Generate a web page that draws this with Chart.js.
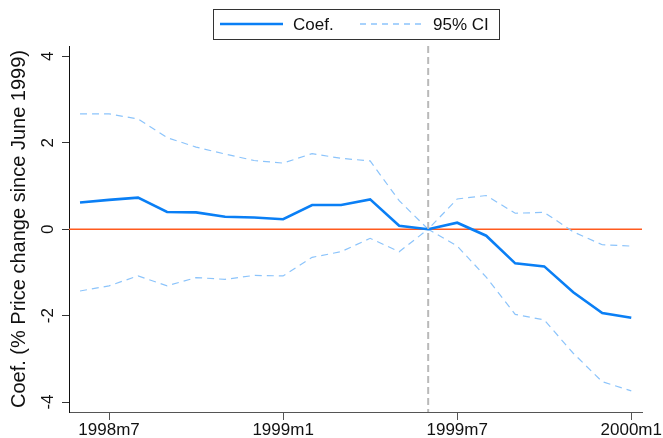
<!DOCTYPE html>
<html>
<head>
<meta charset="utf-8">
<script src="https://cdn.jsdelivr.net/npm/chart.js@4.4.1/dist/chart.umd.min.js"></script>
<style>
  html, body { margin: 0; padding: 0; background: #fff; }
  #wrap { width: 663px; height: 438px; }
</style>
</head>
<body>
<div id="wrap"><canvas id="chartOne" width="663" height="438"></canvas></div>
<script>
// months 1998m6 .. 2000m1
let months = ['1998m6','1998m7','1998m8','1998m9','1998m10','1998m11','1998m12','1999m1','1999m2','1999m3',
              '1999m4','1999m5','1999m6','1999m7','1999m8','1999m9','1999m10','1999m11','1999m12','2000m1'];
let coef  = [0.62, 0.68, 0.73, 0.40, 0.39, 0.29, 0.27, 0.23, 0.56, 0.56,
             0.69, 0.08, 0.00, 0.15, -0.15, -0.79, -0.86, -1.46, -1.94, -2.05];
let ciHigh = [2.67, 2.67, 2.55, 2.12, 1.90, 1.74, 1.59, 1.53, 1.75, 1.64,
              1.58, 0.66, 0.00, 0.70, 0.78, 0.37, 0.39, -0.06, -0.36, -0.39];
let ciLow  = [-1.43, -1.31, -1.08, -1.31, -1.12, -1.16, -1.07, -1.08, -0.65, -0.52,
              -0.21, -0.52, 0.00, -0.39, -1.11, -1.97, -2.10, -2.87, -3.53, -3.74];
let xTicks = ['1998m7', '1999m1', '1999m7', '2000m1'];
let yTicks = [4, 2, 0, -2, -4];
let baseMonth = '1999m6';

const FONT = '"Liberation Sans", Arial, sans-serif';

function toPoints(arr) {
    return arr.map((v, i) => ({ x: i, y: v }));
}

// reference lines: y = 0 and the base month
const refLines = {
    id: 'refLines',
    beforeDatasetsDraw(chart) {
        const { ctx, chartArea, scales } = chart;
        const y0 = scales.y.getPixelForValue(0);
        ctx.save();
        ctx.strokeStyle = '#ff5a1e';
        ctx.lineWidth = 1.6;
        ctx.beginPath();
        ctx.moveTo(chartArea.left, y0);
        ctx.lineTo(chartArea.right, y0);
        ctx.stroke();
        ctx.restore();
    },
    afterDatasetsDraw(chart) {
        const { ctx, chartArea, scales } = chart;
        const xb = scales.x.getPixelForValue(months.indexOf(baseMonth));
        ctx.save();
        ctx.strokeStyle = '#b9b9b9';
        ctx.lineWidth = 2;
        ctx.setLineDash([7, 4]);
        ctx.beginPath();
        ctx.moveTo(xb, chartArea.top);
        ctx.lineTo(xb, chartArea.bottom);
        ctx.stroke();
        ctx.restore();
    }
};

// y tick labels turned 90 degrees, Stata style
const yLabels = {
    id: 'yLabels',
    afterDraw(chart) {
        const ctx = chart.ctx;
        const sy = chart.scales.y;
        ctx.save();
        ctx.font = '17px ' + FONT;
        ctx.fillStyle = '#111';
        ctx.textAlign = 'center';
        ctx.textBaseline = 'middle';
        sy.ticks.forEach(t => {
            ctx.save();
            ctx.translate(48, sy.getPixelForValue(t.value));
            ctx.rotate(-Math.PI / 2);
            ctx.fillText(String(t.value), 0, 0);
            ctx.restore();
        });
        ctx.restore();
    }
};

// boxed legend like the Stata one
const boxLegend = {
    id: 'boxLegend',
    afterDraw(chart) {
        const ctx = chart.ctx;
        const ds = chart.data.datasets;
        ctx.save();
        ctx.strokeStyle = '#333';
        ctx.lineWidth = 1;
        ctx.strokeRect(213.5, 9.5, 286, 30);
        ctx.font = '17px ' + FONT;
        ctx.fillStyle = '#111';
        ctx.textBaseline = 'middle';
        // Coef.
        ctx.strokeStyle = ds[0].borderColor;
        ctx.lineWidth = 2.5;
        ctx.beginPath();
        ctx.moveTo(220, 24);
        ctx.lineTo(283, 24);
        ctx.stroke();
        ctx.fillText(ds[0].label, 293, 25);
        // 95% CI
        ctx.strokeStyle = ds[1].borderColor;
        ctx.lineWidth = 1.3;
        ctx.setLineDash([6, 5]);
        ctx.beginPath();
        ctx.moveTo(360, 24);
        ctx.lineTo(423, 24);
        ctx.stroke();
        ctx.setLineDash([]);
        ctx.fillText('95% CI', 433, 25);
        ctx.restore();
    }
};

var ctxOne = document.getElementById('chartOne').getContext('2d');
var chartOne = new Chart(ctxOne, {
    type: 'line',
    data: {
        datasets: [{
            label: 'Coef.',
            data: toPoints(coef),
            borderColor: '#0a7ff5',
            borderWidth: 2.6,
            pointRadius: 0,
            tension: 0,
            order: 1
        }, {
            label: '95% CI',
            data: toPoints(ciHigh),
            borderColor: '#8cc4fb',
            borderWidth: 1.2,
            borderDash: [7, 5],
            pointRadius: 0,
            tension: 0,
            order: 2
        }, {
            label: '95% CI low',
            data: toPoints(ciLow),
            borderColor: '#8cc4fb',
            borderWidth: 1.2,
            borderDash: [7, 5],
            pointRadius: 0,
            tension: 0,
            order: 2
        }]
    },
    options: {
        responsive: false,
        animation: false,
        layout: { padding: { top: 46, right: 21, left: 0, bottom: 0 } },
        plugins: {
            legend: { display: false },
            tooltip: { enabled: false }
        },
        scales: {
            x: {
                type: 'linear',
                min: -0.38,
                max: 19.37,
                afterBuildTicks: (scale) => {
                    scale.ticks = xTicks.map(t => ({ value: months.indexOf(t) }));
                },
                afterFit: (scale) => { scale.height = 26; },
                grid: { display: true, drawOnChartArea: false, drawTicks: true, tickLength: 8, color: '#555' },
                border: { display: true, color: '#555', width: 1 },
                ticks: {
                    autoSkip: false,
                    maxRotation: 0,
                    padding: 0,
                    color: '#111',
                    font: { family: FONT, size: 17 },
                    callback: (v) => months[v]
                }
            },
            y: {
                min: -4.23,
                max: 4.24,
                afterBuildTicks: (scale) => {
                    scale.ticks = yTicks.map(v => ({ value: v }));
                },
                afterFit: (scale) => { scale.width = 69; },
                grid: { display: true, drawOnChartArea: false, drawTicks: true, tickLength: 7, color: '#333' },
                border: { display: true, color: '#111', width: 1 },
                title: {
                    display: true,
                    text: 'Coef. (% Price change since June 1999)',
                    color: '#111',
                    padding: { top: 7, bottom: 0 },
                    font: { family: FONT, size: 20 }
                },
                ticks: {
                    display: false
                }
            }
        }
    },
    plugins: [refLines, yLabels, boxLegend]
});
</script>
</body>
</html>
